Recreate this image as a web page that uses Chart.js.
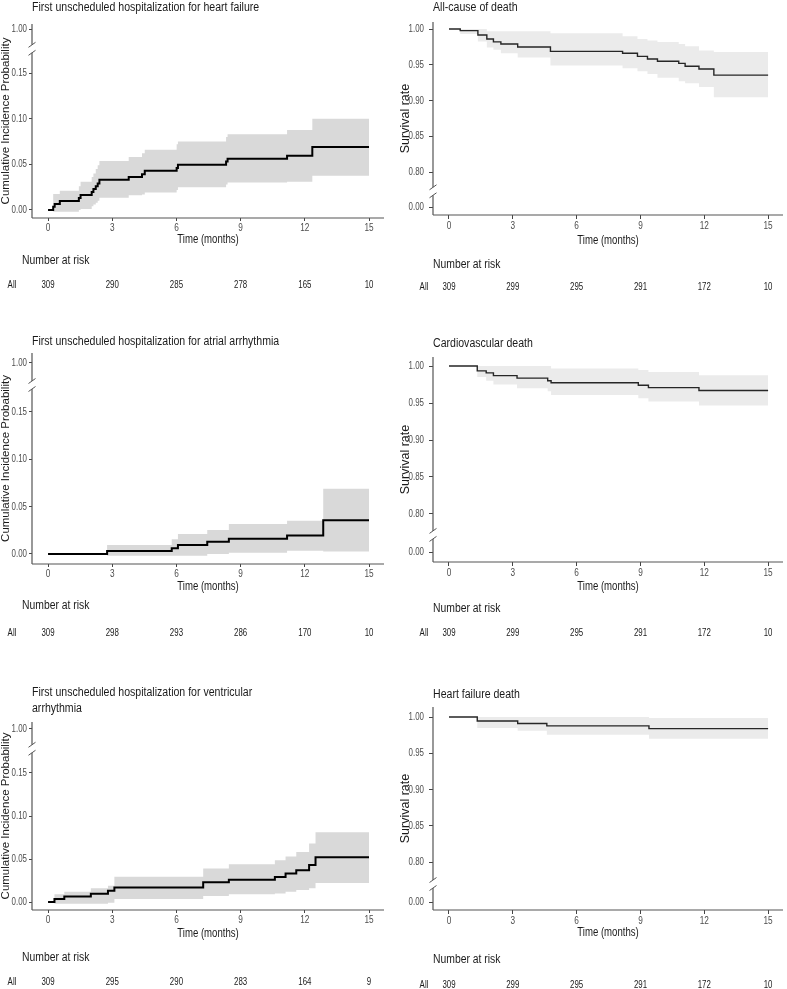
<!DOCTYPE html>
<html>
<head>
<meta charset="utf-8">
<title>Cumulative incidence and survival</title>
<script src="https://cdn.jsdelivr.net/npm/chart.js@4.4.1/dist/chart.umd.min.js"></script>
<style>
  html, body { margin: 0; padding: 0; background: #fff; }
  #page { position: relative; width: 787px; height: 989px; overflow: hidden; }
  #page canvas { position: absolute; }
</style>
</head>
<body>
<div id="page"></div>
<script>
// x axis ticks (months) and number-at-risk time points
const timeTicks = [0, 3, 6, 9, 12, 15];

// First unscheduled hospitalization for heart failure
const hfHospTime = [0, 0.24, 0.31, 0.55, 1.44, 1.52, 2.04, 2.12, 2.23, 2.32, 2.40, 3.77, 4.39, 4.52, 6.01, 6.07, 8.32, 8.39, 11.17, 12.35, 15];
const hfHospEst  = [0, 0.0035, 0.0065, 0.0098, 0.013, 0.0165, 0.0197, 0.023, 0.026, 0.029, 0.033, 0.036, 0.039, 0.043, 0.046, 0.0496, 0.053, 0.056, 0.0595, 0.069, 0.069];
const hfHospLow  = [0, -0.002, -0.002, -0.002, 0.0, 0.001, 0.004, 0.006, 0.008, 0.010, 0.0135, 0.016, 0.017, 0.019, 0.022, 0.025, 0.028, 0.030, 0.031, 0.0376, 0.0376];
const hfHospHigh = [0, 0.0175, 0.0175, 0.021, 0.026, 0.031, 0.036, 0.040, 0.045, 0.049, 0.0536, 0.058, 0.062, 0.066, 0.072, 0.075, 0.080, 0.083, 0.0875, 0.100, 0.100];
const hfHospRisk = [309, 290, 285, 278, 165, 10];

// First unscheduled hospitalization for atrial arrhythmia
const afHospTime = [0, 2.76, 5.78, 6.07, 7.44, 8.45, 11.17, 12.86, 15];
const afHospEst  = [0, 0.0032, 0.006, 0.0095, 0.013, 0.0162, 0.0194, 0.0356, 0.0356];
const afHospLow  = [0, -0.002, -0.002, -0.002, 0.0, 0.0014, 0.0035, 0.0025, 0.0025];
const afHospHigh = [0, 0.0095, 0.0155, 0.021, 0.0254, 0.0317, 0.035, 0.069, 0.069];
const afHospRisk = [309, 298, 293, 286, 170, 10];

// First unscheduled hospitalization for ventricular arrhythmia
const vaHospTime = [0, 0.3, 0.76, 2.0, 2.8, 3.1, 7.25, 8.45, 10.6, 11.1, 11.6, 12.2, 12.5, 15];
const vaHospEst  = [0, 0.0035, 0.0065, 0.0095, 0.013, 0.017, 0.023, 0.026, 0.029, 0.033, 0.037, 0.043, 0.052, 0.052];
const vaHospLow  = [0, -0.002, -0.002, -0.002, -0.001, 0.0034, 0.007, 0.009, 0.010, 0.012, 0.014, 0.016, 0.022, 0.022];
const vaHospHigh = [0, 0.009, 0.012, 0.016, 0.019, 0.0295, 0.039, 0.044, 0.0485, 0.053, 0.058, 0.068, 0.081, 0.081];
const vaHospRisk = [309, 295, 290, 283, 164, 9];

// All-cause of death
const allDeathTime = [0, 0.53, 1.36, 1.78, 2.09, 2.44, 3.23, 4.77, 8.16, 8.86, 9.33, 9.8, 10.8, 11.1, 11.75, 12.45, 15];
const allDeathEst  = [1, 0.9977, 0.9916, 0.986, 0.982, 0.979, 0.9748, 0.9687, 0.966, 0.9617, 0.958, 0.955, 0.952, 0.948, 0.944, 0.9355, 0.9355];
const allDeathLow  = [1, 0.993, 0.9827, 0.974, 0.971, 0.966, 0.960, 0.949, 0.945, 0.941, 0.937, 0.932, 0.927, 0.924, 0.919, 0.9047, 0.9047];
const allDeathHigh = [1, 1, 1, 0.9967, 0.9967, 0.9967, 0.9967, 0.994, 0.9897, 0.986, 0.984, 0.982, 0.979, 0.976, 0.970, 0.9678, 0.9678];
const allDeathRisk = [309, 299, 295, 291, 172, 10];

// Cardiovascular death
const cvDeathTime = [0, 1.33, 1.75, 2.09, 3.2, 4.64, 4.8, 8.9, 9.375, 11.75, 15];
const cvDeathEst  = [1, 0.9934, 0.9907, 0.987, 0.9836, 0.980, 0.9774, 0.974, 0.9708, 0.967, 0.967];
const cvDeathLow  = [1, 0.985, 0.980, 0.975, 0.970, 0.966, 0.961, 0.9566, 0.952, 0.9465, 0.9465];
const cvDeathHigh = [1, 1, 1, 1, 1, 1, 0.9965, 0.9945, 0.992, 0.9876, 0.9876];
const cvDeathRisk = [309, 299, 295, 291, 172, 10];

// Heart failure death
const hfDeathTime = [0, 1.33, 3.23, 4.6, 9.4, 15];
const hfDeathEst  = [1, 0.9945, 0.991, 0.9877, 0.984, 0.984];
const hfDeathLow  = [1, 0.985, 0.981, 0.9755, 0.970, 0.970];
const hfDeathHigh = [1, 1, 1, 1, 0.9986, 0.9986];
const hfDeathRisk = [309, 299, 295, 291, 172, 10];

const sans = '"Liberation Sans", Arial, sans-serif';

// layout of the six panels, in page pixels
const panels = [
  { side: 'L', box: [0, 0, 385, 300], area: [24, 218], title: ['First unscheduled hospitalization for heart failure'], titleY: [8],
    yMin: -0.0088, yMax: 0.2037, fake: 0.1982, narDy: 43, allDy: 67, timeDy: 22,
    time: hfHospTime, est: hfHospEst, low: hfHospLow, high: hfHospHigh, risk: hfHospRisk },
  { side: 'R', box: [392, 0, 395, 300], area: [22, 215], title: ['All-cause of death'], titleY: [8],
    yMin: 0.7399, yMax: 1.0098, fake: 0.751, narDy: 50, allDy: 72, timeDy: 26,
    time: allDeathTime, est: allDeathEst, low: allDeathLow, high: allDeathHigh, risk: allDeathRisk },
  { side: 'L', box: [0, 320, 385, 325], area: [353, 564], title: ['First unscheduled hospitalization for atrial arrhythmia'], titleY: [342],
    yMin: -0.0106, yMax: 0.2123, fake: 0.2018, narDy: 42, allDy: 69, timeDy: 23,
    time: afHospTime, est: afHospEst, low: afHospLow, high: afHospHigh, risk: afHospRisk },
  { side: 'R', box: [392, 320, 395, 325], area: [357, 562], title: ['Cardiovascular death'], titleY: [344],
    yMin: 0.7351, yMax: 1.0122, fake: 0.7486, narDy: 47, allDy: 71, timeDy: 25,
    time: cvDeathTime, est: cvDeathEst, low: cvDeathLow, high: cvDeathHigh, risk: cvDeathRisk },
  { side: 'L', box: [0, 680, 385, 309], area: [722, 910], title: ['First unscheduled hospitalization for ventricular', 'arrhythmia'], titleY: [693, 709],
    yMin: -0.0093, yMax: 0.2093, fake: 0.2012, narDy: 48, allDy: 72, timeDy: 24,
    time: vaHospTime, est: vaHospEst, low: vaHospLow, high: vaHospHigh, risk: vaHospRisk },
  { side: 'R', box: [392, 680, 395, 309], area: [707, 910], title: ['Heart failure death'], titleY: [695],
    yMin: 0.7338, yMax: 1.0138, fake: 0.7448, narDy: 50, allDy: 75, timeDy: 23,
    time: hfDeathTime, est: hfDeathEst, low: hfDeathLow, high: hfDeathHigh, risk: hfDeathRisk }
];

const X_AXIS_H = 34;

// condensed text (the original uses a narrow face)
function narrowText(ctx, text, x, y, size, sx, align, color) {
  ctx.save();
  ctx.font = size + 'px ' + sans;
  ctx.fillStyle = color;
  ctx.textAlign = align;
  ctx.textBaseline = 'middle';
  ctx.translate(x, y);
  ctx.scale(sx, 1);
  ctx.fillText(text, 0, 0);
  ctx.restore();
}

// broken y axis, x axis line, tick labels, panel title and number-at-risk table
const panelDecor = {
  id: 'panelDecor',
  afterDraw(chart, args, o) {
    const { ctx, chartArea: a, scales: { x, y } } = chart;
    ctx.save();
    const pFrom = y.getPixelForValue(o.breakFrom);
    const pFake = y.getPixelForValue(o.fake);
    const mid = pFrom + (pFake - pFrom) * 0.55;
    const gapTop = mid - 4, gapBot = mid + 4;
    ctx.strokeStyle = '#555';
    ctx.lineWidth = 1.2;
    ctx.beginPath();
    ctx.moveTo(a.left, a.top);
    ctx.lineTo(a.left, gapTop);
    ctx.moveTo(a.left, gapBot);
    ctx.lineTo(a.left, a.bottom);
    ctx.moveTo(a.left, a.bottom);
    ctx.lineTo(a.right, a.bottom);
    ctx.stroke();
    ctx.lineWidth = 1;
    ctx.beginPath();
    [gapTop, gapBot].forEach(py => {
      ctx.moveTo(a.left - 3.5, py + 2.5);
      ctx.lineTo(a.left + 3.5, py - 2.5);
    });
    ctx.stroke();
    ctx.restore();

    const tickCol = '#4d4d4d', textCol = '#1a1a1a';
    // y tick labels
    y.ticks.forEach(t => {
      const lab = t.value === o.fake ? o.fakeLabel : t.value.toFixed(2);
      narrowText(ctx, lab, a.left - o.yLabGap, y.getPixelForValue(t.value), 11, 0.72, 'right', tickCol);
    });
    // x tick labels
    x.ticks.forEach(t => {
      narrowText(ctx, String(t.value), x.getPixelForValue(t.value), a.bottom + o.xLabDy, 11, 0.75, 'center', tickCol);
    });
    narrowText(ctx, 'Time (months)', (a.left + a.right) / 2, a.bottom + o.timeDy, 12, 0.8, 'center', textCol);

    // title
    o.title.forEach((t, i) => narrowText(ctx, t, a.left, o.titleY[i], 12.5, 0.845, 'left', textCol));

    // number at risk
    narrowText(ctx, 'Number at risk', o.narX, a.bottom + o.narDy, 12.5, 0.83, 'left', textCol);
    narrowText(ctx, 'All', o.allX, a.bottom + o.allDy, 10.5, 0.75, 'center', textCol);
    o.risk.forEach((n, i) => {
      narrowText(ctx, String(n), x.getPixelForValue(timeTicks[i]), a.bottom + o.allDy, 10.5, 0.75, 'center', textCol);
    });
  }
};

function pts(t, v) {
  return t.map((ti, i) => ({ x: ti, y: v[i] }));
}

const page = document.getElementById('page');

panels.forEach(p => {
  const [left, top, w, h] = p.box;
  const cv = document.createElement('canvas');
  cv.width = w;
  cv.height = h;
  cv.style.left = left + 'px';
  cv.style.top = top + 'px';
  page.appendChild(cv);

  const isLeft = p.side === 'L';
  const axisX = isLeft ? 32 : 433;
  const axisR = isLeft ? 384 : 783;
  const yW = axisX - left;
  const padTop = p.area[0] - top;
  const padBottom = top + h - (p.area[1] + X_AXIS_H);
  const yTicks = isLeft ? [0, 0.05, 0.10, 0.15, p.fake] : [p.fake, 0.80, 0.85, 0.90, 0.95, 1.00];

  new Chart(cv, {
    type: 'line',
    data: {
      datasets: [
        { data: pts(p.time, p.est), stepped: true, borderColor: isLeft ? '#000' : '#262626',
          borderWidth: isLeft ? 2 : 1.4, pointRadius: 0, fill: false },
        { data: pts(p.time, p.low), stepped: true, borderColor: 'rgba(0,0,0,0)', borderWidth: 0,
          pointRadius: 0, fill: '+1', backgroundColor: isLeft ? '#d9d9d9' : '#ebebeb' },
        { data: pts(p.time, p.high), stepped: true, borderColor: 'rgba(0,0,0,0)', borderWidth: 0,
          pointRadius: 0, fill: false }
      ]
    },
    options: {
      responsive: false,
      animation: false,
      layout: { padding: { top: padTop, bottom: padBottom, left: 0, right: left + w - axisR } },
      plugins: {
        legend: { display: false },
        tooltip: { enabled: false },
        panelDecor: {
          title: p.title,
          titleY: p.titleY.map(v => v - top),
          breakFrom: isLeft ? 0.15 : 0.80,
          fake: p.fake,
          fakeLabel: isLeft ? '1.00' : '0.00',
          risk: p.risk,
          narDy: p.narDy,
          allDy: p.allDy,
          timeDy: p.timeDy,
          yLabGap: isLeft ? 5 : 9,
          xLabDy: isLeft ? 9.5 : 11,
          narX: isLeft ? 22 - left : 433 - left,
          allX: isLeft ? 12 - left : 424 - left
        }
      },
      scales: {
        x: {
          type: 'linear',
          min: -0.75,
          max: 15.7,
          afterBuildTicks: s => { s.ticks = timeTicks.map(v => ({ value: v })); },
          afterFit: s => { s.height = X_AXIS_H; },
          border: { display: false },
          grid: { display: true, drawOnChartArea: false, drawTicks: true, tickLength: isLeft ? 3 : 4, color: '#444' },
          ticks: { display: false }
        },
        y: {
          type: 'linear',
          min: p.yMin,
          max: p.yMax,
          afterBuildTicks: s => { s.ticks = yTicks.map(v => ({ value: v })); },
          afterFit: s => { s.width = yW; },
          border: { display: false },
          grid: { display: true, drawOnChartArea: false, drawTicks: true, tickLength: isLeft ? 3 : 4, color: '#444' },
          ticks: { display: false },
          title: { display: true, color: '#1a1a1a',
                   text: isLeft ? 'Cumulative Incidence Probability' : 'Survival rate',
                   font: { family: sans, size: isLeft ? 11.5 : 12.5, lineHeight: 1 },
                   padding: { top: isLeft ? 0 : 7, bottom: 0 } }
        }
      }
    },
    plugins: [panelDecor]
  });
});
</script>
</body>
</html>
